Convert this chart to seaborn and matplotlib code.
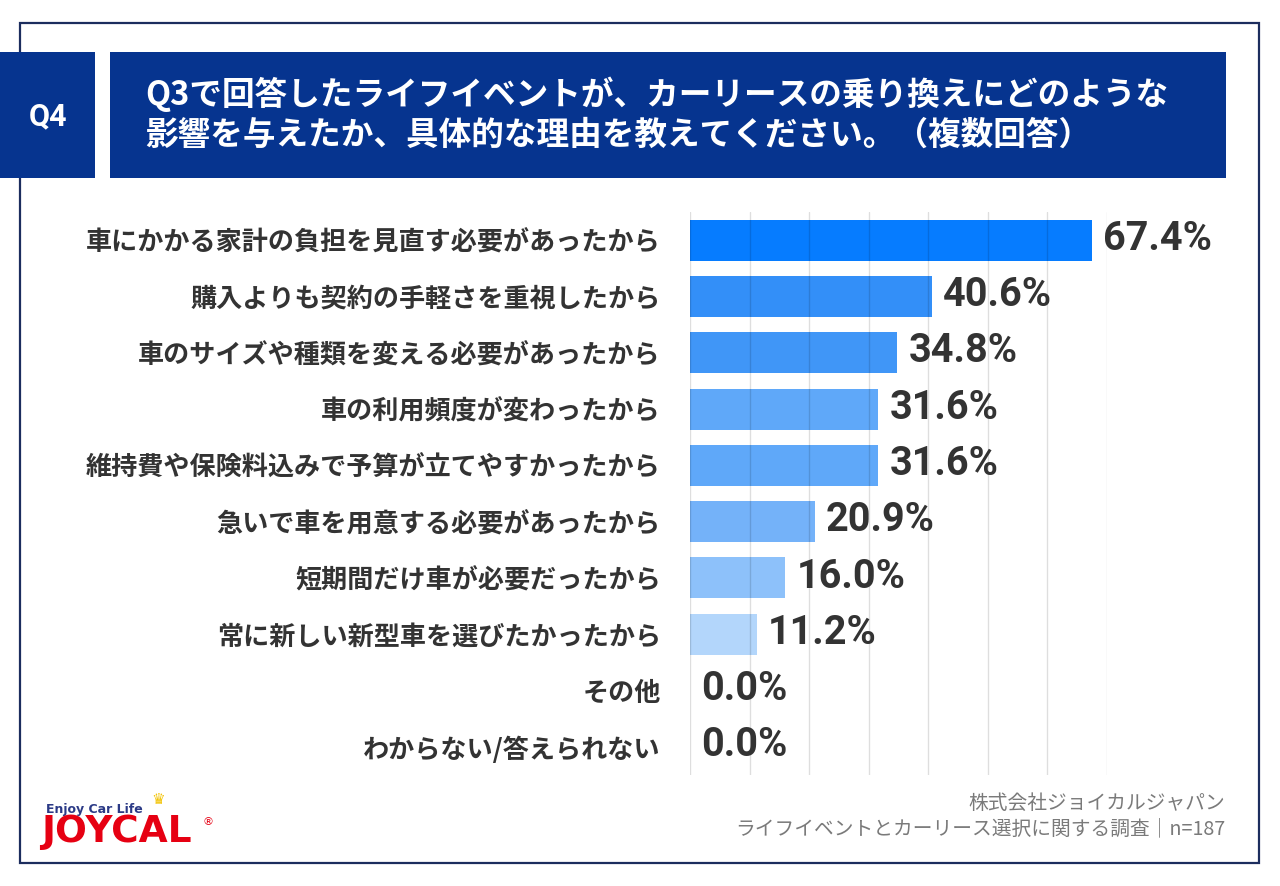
import matplotlib
matplotlib.use("Agg")
import matplotlib.pyplot as plt
import seaborn as sns
import pandas as pd
from matplotlib.patches import Rectangle

# ---- data ----
categories = [
    "車にかかる家計の負担を見直す必要があったから",
    "購入よりも契約の手軽さを重視したから",
    "車のサイズや種類を変える必要があったから",
    "車の利用頻度が変わったから",
    "維持費や保険料込みで予算が立てやすかったから",
    "急いで車を用意する必要があったから",
    "短期間だけ車が必要だったから",
    "常に新しい新型車を選びたかったから",
    "その他",
    "わからない/答えられない",
]
values = [67.4, 40.6, 34.8, 31.6, 31.6, 20.9, 16.0, 11.2, 0.0, 0.0]
bar_colors = ["#067CFF", "#338FF8", "#4096F7", "#5FA8F9", "#5FA8F9",
              "#74B2F9", "#8DC1FA", "#B3D6FB", "#C8E1FB", "#C8E1FB"]
title_lines = ["Q3で回答したライフイベントが、カーリースの乗り換えにどのような",
               "影響を与えたか、具体的な理由を教えてください。（複数回答）"]
q_label = "Q4"
source_lines = ["株式会社ジョイカルジャパン",
                "ライフイベントとカーリース選択に関する調査｜n=187"]
grid_ticks = [0, 10, 20, 30, 40, 50, 60, 70]

sns.set_theme(style="white")
plt.rcParams["font.family"] = ["Noto Sans CJK JP", "DejaVu Sans"]

W, H = 1280, 886
fig = plt.figure(figsize=(W / 100, H / 100), dpi=100)
fig.patch.set_facecolor("white")


def fx(x):
    return x / W


def fy(y):
    return 1 - y / H


# outer frame
fig.patches.append(Rectangle((fx(20), fy(863)), fx(1259) - fx(20), fy(23) - fy(863),
                             transform=fig.transFigure, fill=False,
                             edgecolor="#1c2d5e", linewidth=1.6, zorder=0))
# header boxes
navy = "#06348F"
fig.patches.append(Rectangle((fx(0), fy(178)), fx(95), fy(52) - fy(178),
                             transform=fig.transFigure, facecolor=navy,
                             edgecolor="none", zorder=1))
fig.patches.append(Rectangle((fx(110), fy(178)), fx(1226) - fx(110), fy(52) - fy(178),
                             transform=fig.transFigure, facecolor=navy,
                             edgecolor="none", zorder=1))
fig.text(fx(48), fy(116), q_label, color="white", fontsize=22, fontweight="bold",
         family=["Roboto", "DejaVu Sans"], ha="center", va="center", zorder=2)
fig.text(fx(145), fy(94), title_lines[0], color="white", fontsize=23.5,
         fontweight="bold", ha="left", va="center", zorder=2)
fig.text(fx(145), fy(135), title_lines[1], color="white", fontsize=23.5,
         fontweight="bold", ha="left", va="center", zorder=2)

# ---- chart ----
ax = fig.add_axes([fx(690), fy(775), fx(1107) - fx(690), fy(212) - fy(775)])
df = pd.DataFrame({"category": categories, "value": values})
sns.barplot(data=df, x="value", y="category", hue="category", palette=bar_colors,
            order=categories, hue_order=categories, legend=False, saturation=1,
            width=0.73, linewidth=0, ax=ax, orient="h")
ax.set_xlim(0, 70)
ax.set_xticks(grid_ticks)
ax.set_xticklabels([])
ax.tick_params(axis="both", length=0)
ax.tick_params(axis="y", pad=21, labelsize=18.8, labelcolor="#333333")
for lab in ax.get_yticklabels():
    lab.set_fontweight("bold")
ax.set_xlabel("")
ax.set_ylabel("")
for s in ax.spines.values():
    s.set_visible(False)
ax.set_axisbelow(False)
ax.xaxis.grid(True, color="black", alpha=0.13, linewidth=1.0)
ax.yaxis.grid(False)

for i, v in enumerate(values):
    ax.annotate(f"{v:.1f}%", xy=(v, i), xytext=(8, 1), textcoords="offset points",
                ha="left", va="center", fontsize=28.5, fontweight="bold",
                family=["Roboto", "DejaVu Sans"], color="#333333",
                annotation_clip=False)

# ---- footer ----
fig.text(fx(1225), fy(803), source_lines[0], color="#7a7a7a", fontsize=14.2,
         ha="right", va="center")
fig.text(fx(1225), fy(829), source_lines[1], color="#7a7a7a", fontsize=14.2,
         ha="right", va="center")

# logo
fig.text(fx(46), fy(809), "Enjoy Car Life", color="#2b3a86", fontsize=9,
         fontweight="bold", family=["DejaVu Sans"], ha="left", va="center")
fig.text(fx(41), fy(832), "JOYCAL", color="#E60012", fontsize=27,
         fontweight="heavy", family=["DejaVu Sans"], ha="left", va="center")
fig.text(fx(158), fy(799), "♛", color="#F2C200", fontsize=11,
         family=["DejaVu Sans"], ha="center", va="center")
fig.text(fx(203), fy(822), "®", color="#E60012", fontsize=8,
         family=["DejaVu Sans"], ha="left", va="center")

fig.savefig("out.png", dpi=100, facecolor="white")
